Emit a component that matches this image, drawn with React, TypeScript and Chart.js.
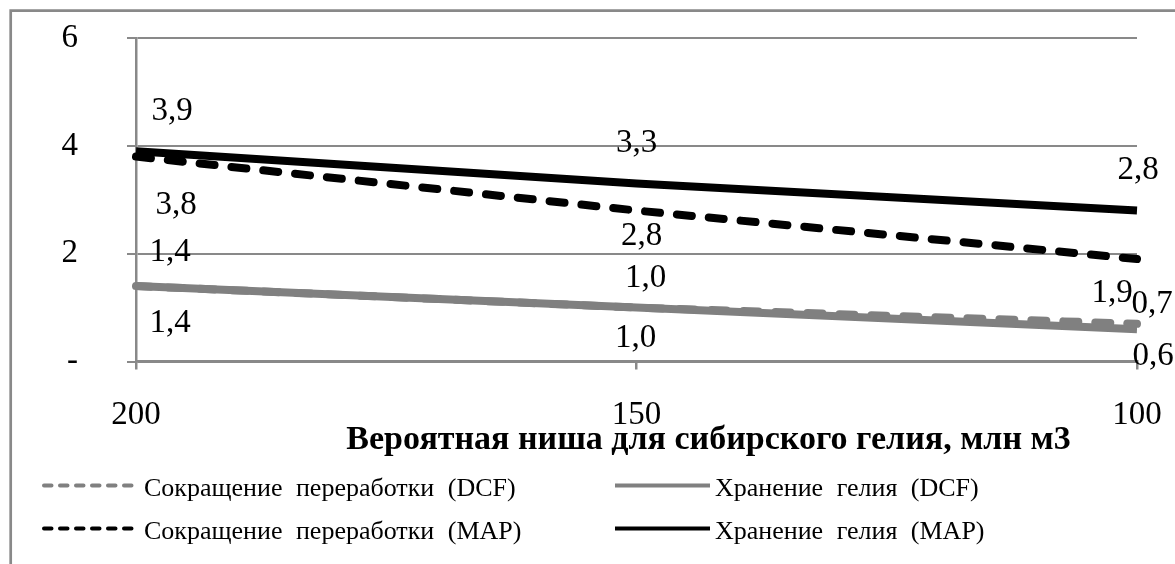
import React, { useEffect, useRef } from 'react';
import { Chart, registerables } from 'chart.js';

Chart.register(...registerables);

// Categories (niche size, mln m3) and series values
const categories = ['200', '150', '100'];
const dcfCut = [1.4, 1.0, 0.7];
const dcfStore = [1.4, 1.0, 0.6];
const mapCut = [3.8, 2.8, 1.9];
const mapStore = [3.9, 3.3, 2.8];

const seriesNames = [
  'Сокращение переработки (DCF)',
  'Хранение гелия (DCF)',
  'Сокращение переработки (MAP)',
  'Хранение гелия (MAP)',
];
const axisTitle = 'Вероятная ниша для сибирского гелия, млн м3';
const yMin = 0;
const yMax = 6;
const yStep = 2;

// Where each value label sits relative to its point: [dx, dy] per series, per point
const labelOffsets = [
  [[34, -35], [9, -30], [15, -20]],
  [[34, 36], [-1, 30], [16, 26]],
  [[40, 48], [5, 25], [-25, 33]],
  [[36, -41], [0, -41], [1, -41]],
];

const SERIF = '"Liberation Serif", "Times New Roman", serif';
const FRAME = '#898989';
const GREY_SERIES = '#808080';
const LINE_W = 8;
const DASH = [15, 17];

const fmt = (v: number) => v.toFixed(1).replace('.', ',');

// Grey frame around the whole figure (left and top edges)
const framePlugin = {
  id: 'frame',
  beforeDraw(chart: any) {
    const ctx = chart.ctx;
    ctx.save();
    ctx.strokeStyle = FRAME;
    ctx.lineWidth = 2.7;
    ctx.beginPath();
    ctx.moveTo(10.7, chart.height);
    ctx.lineTo(10.7, 10.7);
    ctx.lineTo(chart.width, 10.7);
    ctx.stroke();
    ctx.restore();
  },
};

// Value labels next to every point
const valueLabelPlugin = {
  id: 'valueLabels',
  afterDatasetsDraw(chart: any) {
    const ctx = chart.ctx;
    ctx.save();
    ctx.font = `33px ${SERIF}`;
    ctx.fillStyle = '#000';
    ctx.textAlign = 'center';
    ctx.textBaseline = 'middle';
    chart.data.datasets.forEach((ds: any, i: number) => {
      const meta = chart.getDatasetMeta(i);
      meta.data.forEach((pt: any, j: number) => {
        const [dx, dy] = labelOffsets[i][j];
        ctx.fillText(fmt(ds.data[j]), pt.x + dx, pt.y + dy + 1);
      });
    });
    ctx.restore();
  },
};

// Axis title and a two-column legend under the plot
const footerPlugin = {
  id: 'footer',
  afterDraw(chart: any) {
    const ctx = chart.ctx;
    const area = chart.chartArea;
    ctx.save();
    ctx.fillStyle = '#000';
    ctx.textBaseline = 'middle';
    ctx.textAlign = 'center';
    ctx.font = `bold 34px ${SERIF}`;
    ctx.fillText(axisTitle, (area.left + area.right) / 2 + 72, area.bottom + 79);

    const colX = [42, 613];
    const rowY = [area.bottom + 128, area.bottom + 171];
    const sampleW = 97;
    ctx.font = `26px ${SERIF}`;
    (ctx as any).wordSpacing = '7px';
    ctx.textAlign = 'left';
    chart.data.datasets.forEach((ds: any, i: number) => {
      const x = colX[i % 2];
      const y = rowY[Math.floor(i / 2)];
      ctx.save();
      ctx.strokeStyle = ds.borderColor;
      ctx.lineWidth = 4;
      ctx.lineCap = ds.borderDash.length ? 'round' : 'butt';
      ctx.setLineDash(ds.borderDash.map((d: number) => d / 2));
      ctx.beginPath();
      ctx.moveTo(x + 2, y - 4);
      ctx.lineTo(x + sampleW, y - 4);
      ctx.stroke();
      ctx.restore();
      ctx.fillText(ds.label, x + sampleW + 5, y);
    });
    ctx.restore();
  },
};

export default function App() {
  const canvasRef = useRef<HTMLCanvasElement | null>(null);

  useEffect(() => {
    if (!canvasRef.current) return;
    const lineStyle = (color: string, dashed: boolean) => ({
      borderColor: color,
      backgroundColor: color,
      borderWidth: LINE_W,
      borderDash: dashed ? DASH : [],
      borderCapStyle: dashed ? 'round' : 'butt',
      pointRadius: 0,
      pointHoverRadius: 0,
      tension: 0,
      fill: false,
    });
    const chart = new Chart(canvasRef.current, {
      type: 'line',
      data: {
        labels: categories,
        datasets: [
          { label: seriesNames[0], data: dcfCut, ...lineStyle(GREY_SERIES, true), order: 1 },
          { label: seriesNames[1], data: dcfStore, ...lineStyle(GREY_SERIES, false), order: 2 },
          { label: seriesNames[2], data: mapCut, ...lineStyle('#000000', true), order: 3 },
          { label: seriesNames[3], data: mapStore, ...lineStyle('#000000', false), order: 4 },
        ] as any,
      },
      options: {
        responsive: false,
        animation: false,
        events: [],
        layout: { padding: { left: 8, right: 38, top: 38, bottom: 0 } },
        plugins: {
          legend: { display: false },
          tooltip: { enabled: false },
          title: { display: false },
        },
        scales: {
          x: {
            type: 'category',
            offset: false,
            afterFit: (scale: any) => {
              scale.height = 202.5;
              scale.paddingLeft = 0;
              scale.paddingRight = 0;
            },
            grid: {
              display: true,
              drawOnChartArea: false,
              drawTicks: true,
              tickLength: 8,
              color: FRAME,
              lineWidth: 2.5,
            },
            border: { display: true, color: FRAME, width: 2.5 },
            ticks: {
              color: '#000',
              font: { family: SERIF, size: 33 },
              padding: 26,
              maxRotation: 0,
              autoSkip: false,
            },
          },
          y: {
            min: yMin,
            max: yMax,
            afterFit: (scale: any) => {
              scale.width = 128;
              scale.paddingTop = 0;
              scale.paddingBottom = 0;
            },
            grid: {
              color: FRAME,
              lineWidth: 2,
              drawTicks: true,
              tickLength: 9,
            },
            border: { display: true, color: FRAME, width: 2.5 },
            ticks: {
              stepSize: yStep,
              color: '#000',
              font: { family: SERIF, size: 33 },
              padding: 49,
              callback: (v: any) => (Number(v) === 0 ? '-' : String(v)),
            },
          },
        },
      } as any,
      plugins: [framePlugin, valueLabelPlugin, footerPlugin],
    });
    return () => chart.destroy();
  }, []);

  return (
    <div style={{ position: 'absolute', left: 0, top: 0, width: 1175, height: 564, background: '#fff' }}>
      <canvas ref={canvasRef} width={1175} height={564} style={{ display: 'block' }} />
    </div>
  );
}
